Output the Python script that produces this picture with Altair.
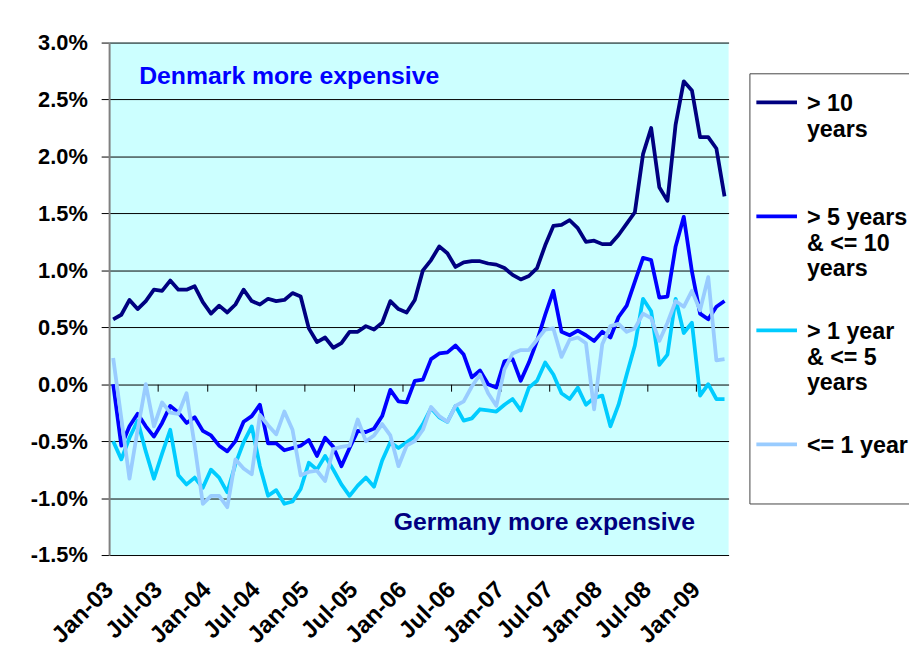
import json
import altair as alt
import pandas as pd

# ---------------- data ----------------
month_names = ["Jan", "Feb", "Mar", "Apr", "May", "Jun",
               "Jul", "Aug", "Sep", "Oct", "Nov", "Dec"]
months = [f"{m}-{y:02d}" for y in range(3, 10) for m in month_names][:76]  # Jan-03 .. Apr-09

tick_labels = ["Jan-03", "Jul-03", "Jan-04", "Jul-04", "Jan-05", "Jul-05", "Jan-06",
               "Jul-06", "Jan-07", "Jul-07", "Jan-08", "Jul-08", "Jan-09"]

series_names = ["> 10 years", "> 5 years & <= 10 years", "> 1 year & <= 5 years", "<= 1 year"]
legend_lines = [["> 10", "years", ""],
                ["> 5 years", "& <= 10", "years"],
                ["> 1 year", "& <= 5", "years"],
                ["<= 1 year", ""]]
series_colors = ["#000080", "#0000FF", "#00CCFF", "#99CCFF"]

gt10 = [0.57, 0.61, 0.74, 0.66, 0.73, 0.83, 0.82, 0.91, 0.83, 0.83, 0.86, 0.72, 0.62, 0.69, 0.63, 0.70,
        0.83, 0.73, 0.70, 0.75, 0.73, 0.74, 0.80, 0.77, 0.49, 0.37, 0.41, 0.32, 0.36, 0.46, 0.46, 0.51,
        0.48, 0.54, 0.73, 0.66, 0.63, 0.74, 1.00, 1.09, 1.21, 1.15, 1.03, 1.07, 1.08, 1.08, 1.06, 1.05,
        1.02, 0.96, 0.92, 0.95, 1.02, 1.22, 1.39, 1.40, 1.44, 1.37, 1.25, 1.26, 1.23, 1.23, 1.31, 1.41,
        1.51, 2.02, 2.25, 1.73, 1.61, 2.28, 2.66, 2.58, 2.17, 2.17, 2.07, 1.65]

gt5 = [0.00, -0.54, -0.37, -0.26, -0.37, -0.46, -0.34, -0.19, -0.25, -0.34, -0.29, -0.41, -0.45, -0.54,
       -0.59, -0.50, -0.33, -0.28, -0.18, -0.52, -0.52, -0.58, -0.56, -0.54, -0.49, -0.63, -0.47, -0.55,
       -0.72, -0.56, -0.41, -0.42, -0.39, -0.28, -0.05, -0.15, -0.16, 0.03, 0.04, 0.22, 0.27, 0.28, 0.34,
       0.26, 0.06, 0.12, 0.00, -0.03, 0.20, 0.22, 0.03, 0.19, 0.38, 0.61, 0.82, 0.46, 0.43, 0.47, 0.43,
       0.38, 0.46, 0.41, 0.59, 0.69, 0.90, 1.11, 1.09, 0.76, 0.77, 1.21, 1.47, 0.99, 0.62, 0.57, 0.68, 0.73]

gt1 = [-0.50, -0.66, -0.47, -0.32, -0.59, -0.83, -0.61, -0.40, -0.80, -0.88, -0.82, -0.91, -0.75, -0.82,
       -0.95, -0.70, -0.51, -0.37, -0.72, -0.98, -0.93, -1.05, -1.03, -0.92, -0.69, -0.75, -0.63, -0.75,
       -0.88, -0.98, -0.89, -0.82, -0.90, -0.67, -0.51, -0.56, -0.51, -0.46, -0.35, -0.21, -0.29, -0.33,
       -0.19, -0.32, -0.30, -0.22, -0.23, -0.24, -0.18, -0.13, -0.23, -0.03, 0.03, 0.19, 0.085, -0.08,
       -0.13, -0.03, -0.18, -0.12, -0.10, -0.37, -0.18, 0.085, 0.34, 0.75, 0.64, 0.17, 0.26, 0.75, 0.45,
       0.54, -0.10, 0.00, -0.13, -0.13]

le1 = [0.23, -0.30, -0.83, -0.40, 0.00, -0.37, -0.16, -0.25, -0.26, -0.08, -0.54, -1.05, -0.98, -0.98,
       -1.08, -0.66, -0.74, -0.79, -0.27, -0.36, -0.44, -0.24, -0.40, -0.80, -0.77, -0.76, -0.85, -0.57,
       -0.55, -0.54, -0.31, -0.50, -0.45, -0.35, -0.45, -0.72, -0.54, -0.50, -0.40, -0.20, -0.28, -0.33,
       -0.19, -0.15, -0.02, 0.085, -0.08, -0.19, 0.13, 0.27, 0.30, 0.30, 0.39, 0.48, 0.49, 0.24, 0.39,
       0.41, 0.36, -0.22, 0.35, 0.51, 0.53, 0.46, 0.49, 0.62, 0.58, 0.38, 0.54, 0.73, 0.68, 0.82, 0.65,
       0.94, 0.21, 0.22]

y_ticks = [-1.5, -1.0, -0.5, 0.0, 0.5, 1.0, 1.5, 2.0, 2.5, 3.0]

ann_text = ["Denmark more expensive", "Germany more expensive"]
ann_x = [21.6, 52.9]
ann_y = [2.71, -1.215]
ann_color = ["#0000FF", "#000080"]

# ---------------- tables ----------------
rows = []
for name, vals in zip(series_names, [gt10, gt5, gt1, le1]):
    for i, v in enumerate(vals):
        rows.append({"i": i, "month": months[i], "series": name, "value": v})
df = pd.DataFrame(rows)

ann = pd.DataFrame({"ax": ann_x, "ay": ann_y, "text": ann_text, "col": ann_color})

tick_pos = [months.index(t) for t in tick_labels]
boundaries = [p - 0.5 for p in tick_pos[1:]]

FONT = "Liberation Sans"
n = len(months)
x_scale = alt.Scale(domain=[-0.5, n - 0.5], nice=False, zero=False)
y_scale = alt.Scale(domain=[-1.5, 3.0], nice=False, zero=False)

y_axis = alt.Axis(values=y_ticks, title=None,
                  labelExpr="(datum.value < 0 ? '-' : '') + format(abs(datum.value), '.1f') + '%'",
                  labelFont=FONT, labelFontSize=22, labelFontWeight="bold", labelColor="#000000",
                  labelPadding=14, tickSize=8, tickColor="#000000", domainColor="#808080",
                  domainWidth=2, grid=True, gridColor="#000000", gridWidth=1)

label_expr = "[" + ",".join(json.dumps(t) for t in tick_labels) + "][round(datum.value/6)]"
x_label_axis = alt.Axis(orient="bottom", values=tick_pos, labelExpr=label_expr, title=None,
                        labelAngle=315, labelAlign="right", labelBaseline="middle",
                        labelPadding=31, labelOffset=-4, labelFont=FONT, labelFontSize=24,
                        labelFontWeight="bold", labelColor="#000000", labelOverlap=False,
                        labelFlush=False, labelBound=False, ticks=False, domain=False, grid=False)

leg_expr = ""
for name, lines in zip(series_names[:-1], legend_lines[:-1]):
    leg_expr += f"datum.label === {json.dumps(name)} ? {json.dumps(lines)} : "
leg_expr += json.dumps(legend_lines[-1])

legend = alt.Legend(title=" ", titleOrient="bottom", titleFontSize=9, titlePadding=4,
                    orient="none", legendX=646, legendY=31,
                    symbolType="M-2,0.96L2,0.96", symbolSize=420,
                    symbolStrokeWidth=3.8, symbolOffset=8, labelFont=FONT, labelFontSize=23.5,
                    labelFontWeight="bold", labelColor="#000000", labelBaseline="top",
                    labelExpr=leg_expr, labelLimit=400, labelOffset=18, rowPadding=28,
                    padding=7, strokeColor="#444444", fillColor="#FFFFFF")

lines = alt.Chart(df).mark_line(strokeWidth=3.8, strokeJoin="round").encode(
    x=alt.X("i:Q", scale=x_scale, axis=x_label_axis),
    y=alt.Y("value:Q", scale=y_scale, axis=y_axis),
    color=alt.Color("series:N", scale=alt.Scale(domain=series_names, range=series_colors),
                    legend=legend),
)

x_tick_axis = alt.Axis(orient="bottom", values=boundaries, labels=False, ticks=True,
                       tickSize=7, tickColor="#000000", tickWidth=1, domain=False,
                       grid=False, title=None, offset=-172.3)

texts = alt.Chart(ann).mark_text(font=FONT, fontSize=25, fontWeight="bold",
                                 align="center", baseline="middle").encode(
    x=alt.X("ax:Q", scale=x_scale, axis=x_tick_axis),
    y=alt.Y("ay:Q", scale=y_scale, axis=y_axis),
    text="text:N",
    fill=alt.Fill("col:N", scale=None),
)

chart = alt.layer(lines, texts).resolve_axis(x="independent").properties(
    width=625, height=517,
    padding={"left": 102, "top": 32, "right": 182, "bottom": 100},
    autosize=alt.AutoSizeParams(type="none"),
).configure_view(fill="#CCFFFF", strokeWidth=0)

chart.save("out.html", embed_options={"renderer": "svg", "actions": False})
